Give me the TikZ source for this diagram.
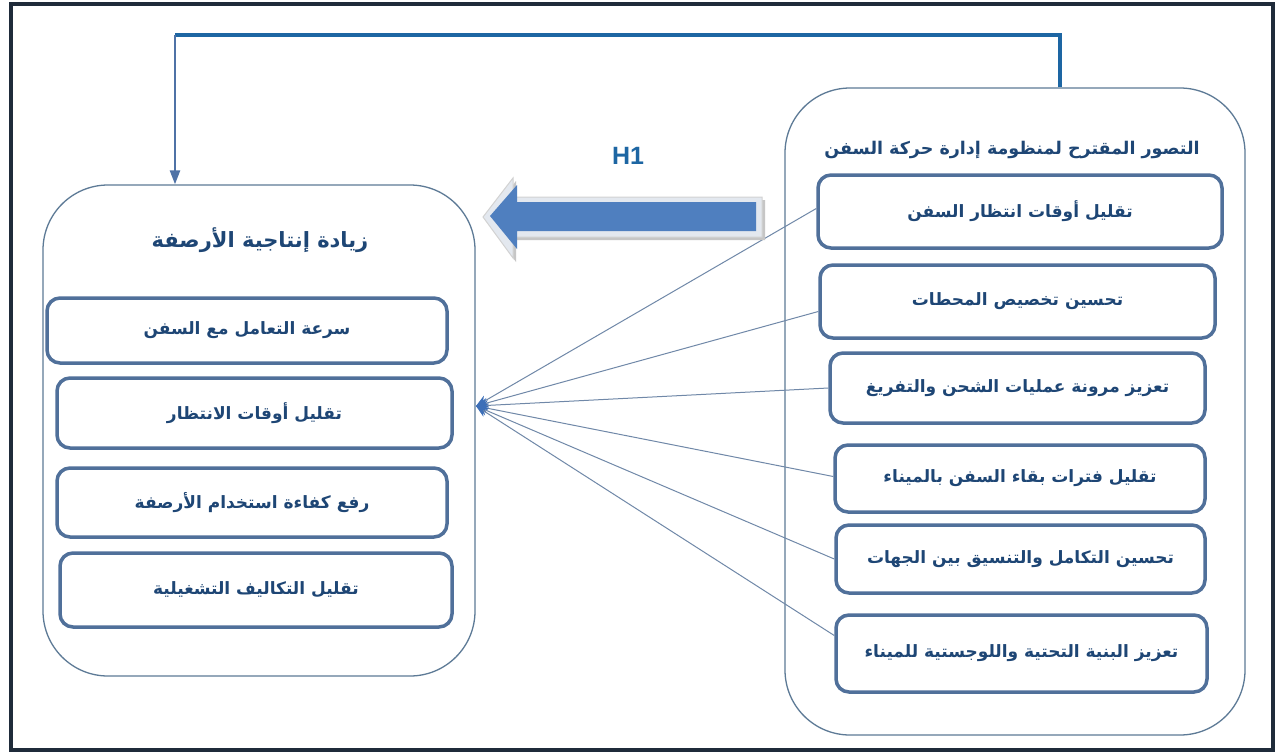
\documentclass[tikz,border=0pt]{standalone}
\usepackage{fontspec}
\setmainfont{Liberation Sans}
\newfontfamily\arabicfont[Script=Arabic]{DejaVu Sans}
\TeXXeTstate=1
\usetikzlibrary{arrows.meta}
\definecolor{framecol}{HTML}{1F2B3A}
\definecolor{txtblue}{HTML}{1E4675}
\definecolor{boxedge}{HTML}{50709A}
\definecolor{panedge}{HTML}{5D7A96}
\definecolor{toplinecol}{HTML}{1D66A3}
\definecolor{downcol}{HTML}{4F72A6}
\definecolor{arrowfill}{HTML}{4F7FBF}
\definecolor{arrowrim}{HTML}{E3E8EF}
\definecolor{thinline}{HTML}{7088A8}
\definecolor{tipcol}{HTML}{3D6FB8}
\newcommand{\artext}[1]{{\arabicfont\bfseries\beginR #1\endR}}
\begin{document}
\begin{tikzpicture}[x=1pt,y=-1pt,
  panel/.style={draw=panedge, line width=1.3pt, fill=white, rounded corners=65pt, inner sep=0pt},
  item/.style={draw=boxedge, line width=3.5pt, fill=white, rounded corners=13pt, inner sep=0pt,
    text=txtblue, font=\fontsize{17}{20}\selectfont},
  ptitle/.style={text=txtblue, inner sep=0pt},
  spoke/.style={draw=thinline, line width=1pt, -{Stealth[length=12pt,width=10pt,color=tipcol]}},
  topconn/.style={draw=toplinecol, line width=4.5pt},
  downconn/.style={draw=downcol, line width=2.5pt, -{Triangle[length=14pt,width=10pt]}}
]
\useasboundingbox (0,0) rectangle (1281,755);
\fill[white] (0,0) rectangle (1281,755);
\draw[framecol, line width=4pt] (11,4) rectangle (1273,750);

% panels
\node[panel, minimum width=432pt, minimum height=491pt] (lp) at (259,430.5) {};
\node[panel, minimum width=460pt, minimum height=647pt] (rp) at (1015,411.5) {};

% titles
\node[ptitle, font=\fontsize{21}{24}\selectfont] (lt) at (260,240) {\artext{زيادة إنتاجية الأرصفة}};
\node[ptitle, font=\fontsize{17.5}{20}\selectfont] (rt) at (1012,150) {\artext{التصور المقترح لمنظومة إدارة حركة السفن}};

% left items
\node[item, minimum width=400pt, minimum height=65pt] (l1) at (247,330.5) {\artext{سرعة التعامل مع السفن}};
\node[item, minimum width=395pt, minimum height=70pt] (l2) at (254.5,413) {\artext{تقليل أوقات الانتظار}};
\node[item, minimum width=390pt, minimum height=69pt] (l3) at (252,502.5) {\artext{رفع كفاءة استخدام الأرصفة}};
\node[item, minimum width=392pt, minimum height=74pt] (l4) at (256,590) {\artext{تقليل التكاليف التشغيلية}};

% right items
\node[item, minimum width=404pt, minimum height=73pt] (r1) at (1020,211.5) {\artext{تقليل أوقات انتظار السفن}};
\node[item, minimum width=395pt, minimum height=73pt] (r2) at (1017.5,301.5) {\artext{تحسين تخصيص المحطات}};
\node[item, minimum width=375pt, minimum height=70pt] (r3) at (1017.5,388) {\artext{تعزيز مرونة عمليات الشحن والتفريغ}};
\node[item, minimum width=370pt, minimum height=67pt] (r4) at (1020,478.5) {\artext{تقليل فترات بقاء السفن بالميناء}};
\node[item, minimum width=369pt, minimum height=68pt] (r5) at (1020.5,559) {\artext{تحسين التكامل والتنسيق بين الجهات}};
\node[item, minimum width=371pt, minimum height=77pt] (r6) at (1021.5,653.5) {\artext{تعزيز البنية التحتية واللوجستية للميناء}};

% spokes
\coordinate (conv) at (476,406);
\draw[spoke] ([yshift=3pt]r1.west) -- (conv);
\draw[spoke] ([yshift=-10pt]r2.west) -- (conv);
\draw[spoke] (r3.west) -- (conv);
\draw[spoke] ([yshift=2pt]r4.west) -- (conv);
\draw[spoke] (r5.west) -- (conv);
\draw[spoke] ([yshift=18pt]r6.west) -- (conv);

% top feedback connector
\coordinate (c1) at (1060,35);
\coordinate (c2) at (175,35);
\draw[topconn] (rp.north -| c1) -- (c1) -- (c2);
\draw[downconn] (c2) -- (lp.north -| c2);

% H1 block arrow
\fill[gray!45] (765,200) -- (516,200) -- (516,181) -- (486,220) -- (516,262) -- (516,240) -- (765,240) -- cycle;
\draw[draw=gray!35, line width=1pt, fill=arrowrim] (762,197) -- (513,197) -- (513,178) -- (483,217) -- (513,258) -- (513,237) -- (762,237) -- cycle;
\fill[arrowfill] (756,202) -- (517,202) -- (517,185) -- (490,216) -- (517,249) -- (517,231) -- (756,231) -- cycle;
\node[text=toplinecol, font=\fontsize{25}{28}\selectfont\bfseries] (h1) at (628,156) {H1};
\end{tikzpicture}
\end{document}
